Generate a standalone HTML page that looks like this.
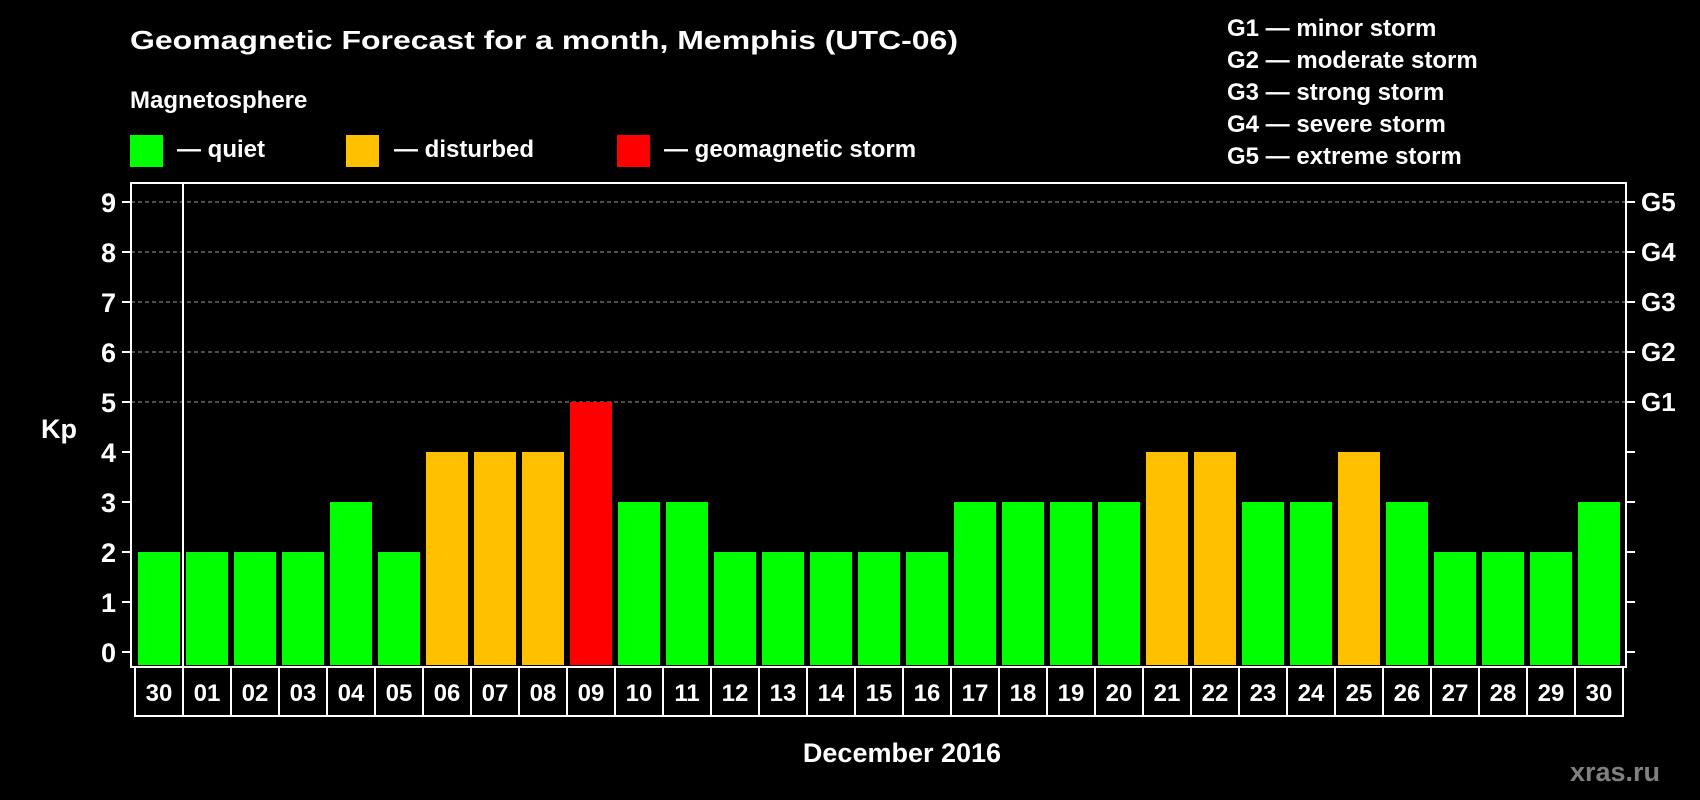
<!DOCTYPE html>
<html><head><meta charset="utf-8"><style>
html,body{margin:0;padding:0;background:#000;}
svg{display:block;}
text{font-family:"Liberation Sans",Arial,sans-serif;font-weight:bold;fill:#fff;}
</style></head><body>
<svg id="chart" width="1700" height="800" viewBox="0 0 1700 800">
<rect x="0" y="0" width="1700" height="800" fill="#000"/>
<text x="130" y="49" font-size="26" textLength="828" lengthAdjust="spacingAndGlyphs">Geomagnetic Forecast for a month, Memphis (UTC-06)</text>
<text x="130" y="108" font-size="24">Magnetosphere</text>
<g>
<rect x="130" y="135" width="33" height="32" fill="#00ff00"/>
<text x="177" y="157" font-size="24">— quiet</text></g>
<g>
<rect x="346" y="135" width="33" height="32" fill="#ffc000"/>
<text x="394" y="157" font-size="24">— disturbed</text></g>
<g>
<rect x="617" y="135" width="33" height="32" fill="#ff0000"/>
<text x="664" y="157" font-size="24">— geomagnetic storm</text></g>
<g>
<text x="1227" y="36" font-size="24">G1 — minor storm</text>
<text x="1227" y="68" font-size="24">G2 — moderate storm</text>
<text x="1227" y="100" font-size="24">G3 — strong storm</text>
<text x="1227" y="132" font-size="24">G4 — severe storm</text>
<text x="1227" y="164" font-size="24">G5 — extreme storm</text>
</g>
<text x="41" y="438" font-size="27">Kp</text>
<text x="902" y="762" font-size="27" text-anchor="middle">December 2016</text>
<text x="1660" y="781" font-size="27" text-anchor="end" style="fill:#808080">xras.ru</text>
<g id="grid"></g><g id="bars"></g><g id="axes"></g><g id="xlabels"></g>
</svg>
<script>
const days = ["30","01","02","03","04","05","06","07","08","09","10","11","12","13","14","15","16","17","18","19","20","21","22","23","24","25","26","27","28","29","30"];
const kpValues = [2,2,2,2,3,2,4,4,4,5,3,3,2,2,2,2,2,3,3,3,3,4,4,3,3,4,3,2,2,2,3];
const yTicks = [0,1,2,3,4,5,6,7,8,9];
const gLabels = ["G1","G2","G3","G4","G5"];
const gLevels = [5,6,7,8,9];

const NS="http://www.w3.org/2000/svg";
const plotL=131, plotR=1626, plotT=183, plotB=667, slotL=135, slot=48;
function y(v){return 652-v*50;}
function x(i){return slotL+i*slot;}
function mk(tag,attrs,parent){const e=document.createElementNS(NS,tag);for(const k in attrs)e.setAttribute(k,attrs[k]);parent.appendChild(e);return e;}
const grid=document.getElementById('grid'),bars=document.getElementById('bars'),axes=document.getElementById('axes'),xl=document.getElementById('xlabels');

gLevels.forEach((g,i)=>{
  const l=mk('line',{x1:plotL,x2:plotR,y1:y(g),y2:y(g),stroke:'#9a9a9a','stroke-width':1,'stroke-dasharray':'4,3'},grid);
  
  
  const t=mk('text',{x:1641,y:y(g)+9,'font-size':26},axes);
  t.textContent=gLabels[i];
  
  
});
kpValues.forEach((v,i)=>{
  const c=v>=5?'#ff0000':(v>=4?'#ffc000':'#00ff00');
  const r=mk('rect',{x:x(i)+3,y:y(v),width:42,height:y(0)-y(v)+13,fill:c},bars);
  
  
  const b=mk('rect',{x:x(i),y:plotB,width:slot,height:49,fill:'none',stroke:'#fff','stroke-width':2},xl);
  
  
  const t=mk('text',{x:x(i)+slot/2,y:plotB+34,'font-size':24,'text-anchor':'middle'},xl);
  t.textContent=days[i];
  
  
});
const frame=mk('rect',{x:plotL,y:plotT,width:plotR-plotL,height:plotB-plotT,fill:'none',stroke:'#fff','stroke-width':2},axes);


const div=mk('line',{x1:x(1),x2:x(1),y1:plotT,y2:plotB,stroke:'#fff','stroke-width':2},axes);


yTicks.forEach(v=>{
  const a=mk('line',{x1:plotL-9,x2:plotL,y1:y(v),y2:y(v),stroke:'#fff','stroke-width':2},axes);
  
  
  const b=mk('line',{x1:plotR,x2:plotR+9,y1:y(v),y2:y(v),stroke:'#fff','stroke-width':2},axes);
  
  
  const t=mk('text',{x:116,y:y(v)+10,'font-size':27,'text-anchor':'end'},axes);
  t.textContent=v;
  
  
});
</script>
</body></html>
